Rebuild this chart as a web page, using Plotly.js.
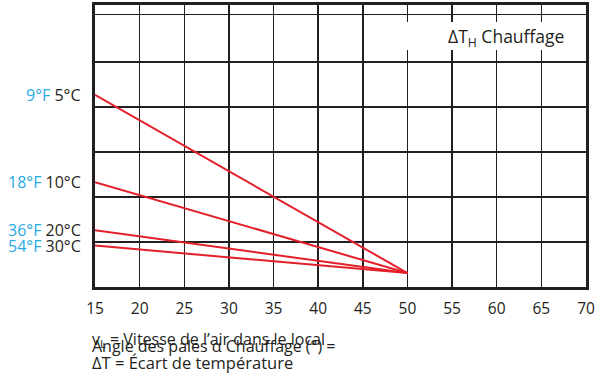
<!DOCTYPE html>
<html>
<head>
<meta charset="utf-8">
<script src="https://cdn.plot.ly/plotly-3.0.1.min.js"></script>
<style>html,body{margin:0;padding:0;background:#fff;}</style>
</head>
<body>
<div id="chart" style="width:612px;height:376px;"></div>
<script>
// Data (x = blade angle, y = relative position on the unscaled ΔT chart)
const xAngle = [15, 50];
const y5C  = [4.27, 0.31];
const y10C = [2.33, 0.31];
const y20C = [1.26, 0.31];
const y30C = [0.92, 0.31];
const seriesNames = ['9°F 5°C', '18°F 10°C', '36°F 20°C', '54°F 30°C'];
const seriesF = ['9°F', '18°F', '36°F', '54°F'];
const seriesC = ['5°C', '10°C', '20°C', '30°C'];
const xTicks = [15, 20, 25, 30, 35, 40, 45, 50, 55, 60, 65, 70];
const yGrid = [1, 2, 3, 4, 5, 6.06];

const ys = [y5C, y10C, y20C, y30C];
const red = '#e3202a';
const dark = '#231f20';
const blue = '#29abe2';
const FONT = 'Open Sans, Noto Sans, sans-serif';

const traces = ys.map((y, i) => ({
  x: xAngle, y: y, type: 'scatter', mode: 'lines',
  name: seriesNames[i],
  line: {color: red, width: 2},
  cliponaxis: false,
  hoverinfo: 'skip'
}));

const L = 95, R = 26, T = 5, B = 89, W = 612, H = 376;
const pw = W - L - R, ph = H - T - B;
const px = v => (v - L) / pw;
const py = v => (H - B - v) / ph;

const annotations = ys.map((y, i) => ({
  xref: 'paper', yref: 'y', x: px(83), y: y[0], xanchor: 'right', yanchor: 'middle',
  text: '<span style="color:' + blue + '">' + seriesF[i] + '</span> ' + seriesC[i],
  showarrow: false, font: {family: FONT, size: 16, color: dark}
}));
annotations.push({
  xref: 'paper', yref: 'paper', x: px(506), y: py(37), xanchor: 'center', yanchor: 'middle',
  text: 'ΔT<sub>H</sub> Chauffage', showarrow: false,
  font: {family: FONT, size: 17.5, color: dark}
});
annotations.push({
  xref: 'paper', yref: 'paper', x: px(90), y: py(339), xanchor: 'left', yanchor: 'middle',
  text: 'v<sub>L</sub> = Vitesse de l’air dans le local', showarrow: false,
  font: {family: FONT, size: 16, color: dark}
});
annotations.push({
  xref: 'paper', yref: 'paper', x: px(90), y: py(346), xanchor: 'left', yanchor: 'middle',
  text: 'Angle des pales α Chauffage (°) =', showarrow: false,
  font: {family: FONT, size: 16, color: dark}
});
annotations.push({
  xref: 'paper', yref: 'paper', x: px(90), y: py(362), xanchor: 'left', yanchor: 'middle',
  text: 'ΔT = Écart de température', showarrow: false,
  font: {family: FONT, size: 16.5, color: dark}
});

const layout = {
  width: W, height: H,
  margin: {l: L, r: R, t: T, b: B, pad: 0},
  paper_bgcolor: '#fff', plot_bgcolor: '#fff',
  showlegend: false,
  font: {family: FONT, color: dark},
  xaxis: {
    range: [15, 70], tickvals: xTicks, ticktext: xTicks.map(String),
    showgrid: true, gridcolor: dark, gridwidth: 1.5,
    showline: true, linecolor: dark, linewidth: 3, mirror: true,
    ticks: '', zeroline: false, fixedrange: true, ticklabelstandoff: 5,
    tickfont: {family: FONT, size: 15.5, color: dark}
  },
  yaxis: {
    range: [0, ph / 45], tickvals: yGrid, showticklabels: false,
    showgrid: true, gridcolor: dark, gridwidth: 1.5,
    showline: true, linecolor: dark, linewidth: 3, mirror: true,
    ticks: '', zeroline: false, fixedrange: true
  },
  shapes: [{
    type: 'rect', xref: 'paper', yref: 'paper', layer: 'above',
    x0: px(385), x1: px(584), y0: py(50), y1: py(22),
    fillcolor: '#fff', line: {width: 0}
  }],
  annotations: annotations
};

Plotly.newPlot('chart', traces, layout, {displayModeBar: false, staticPlot: true});
</script>
</body>
</html>
